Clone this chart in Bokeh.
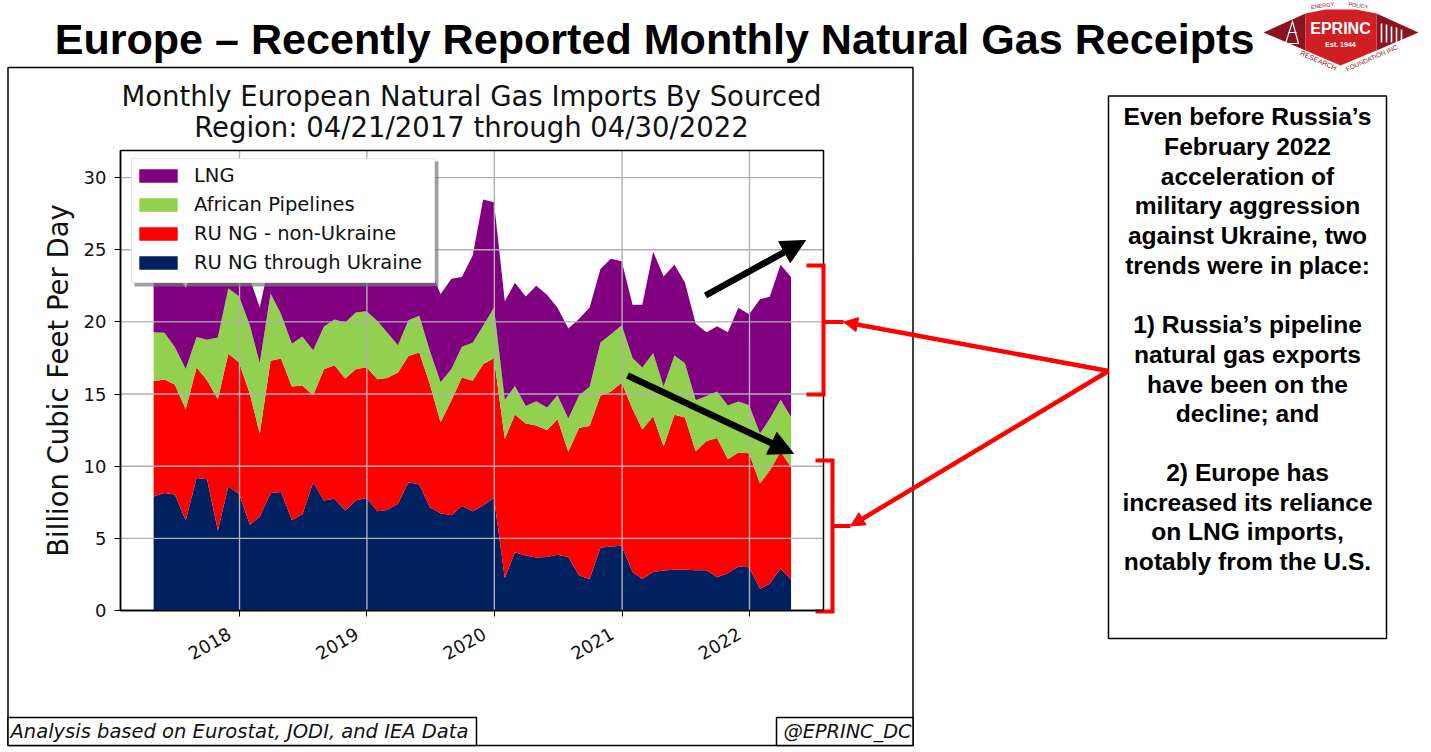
import pandas as pd
from bokeh.core.properties import value
from bokeh.embed import file_html
from bokeh.resources import INLINE
from bokeh.plotting import figure
from bokeh.models import (ColumnDataSource, Range1d, FixedTicker, LinearAxis, DatetimeAxis,
                          Arrow, NormalHead, Legend, LegendItem)

dates = pd.date_range("2017-04-30", periods=61, freq="ME")
ru_ukraine = [7.9, 8.15, 8.04, 6.24, 9.19, 9.1, 5.54, 8.59, 8.08, 5.94, 6.5, 8.15, 8.22, 6.28, 6.65, 8.87,
              7.62, 7.74, 6.93, 7.62, 7.8, 6.88, 6.97, 7.39, 8.89, 8.73, 7.16, 6.74, 6.6, 7.25, 6.88, 7.27,
              7.8, 2.24, 4.04, 3.81, 3.67, 3.7, 3.86, 3.7, 2.42, 2.19, 4.34, 4.43, 4.48, 2.66, 2.19, 2.66,
              2.77, 2.82, 2.82, 2.79, 2.79, 2.31, 2.59, 3.05, 3.0, 1.5, 1.85, 2.91, 2.15]
ru_other = [8.0, 7.85, 7.6, 7.7, 7.65, 6.85, 9.1, 9.2, 9.1, 9.05, 5.75, 9.15, 9.25, 9.25, 8.95, 6.05,
            9.1, 9.25, 9.15, 9.1, 9.05, 9.15, 9.15, 9.1, 8.75, 9.15, 8.55, 6.3, 7.95, 8.9, 9.05, 9.8,
            9.7, 9.65, 9.55, 9.15, 9.15, 8.8, 9.4, 7.3, 10.25, 10.6, 10.55, 10.75, 11.3, 11.3, 10.35, 10.8,
            8.6, 10.75, 10.55, 8.25, 8.95, 9.65, 7.9, 7.9, 7.9, 7.3, 7.85, 8.1, 7.8]
african = [3.39, 3.24, 2.61, 2.79, 2.12, 2.82, 4.28, 4.55, 4.58, 4.74, 4.9, 4.67, 3.07, 2.96, 3.39, 3.12,
           2.96, 3.17, 3.88, 3.93, 3.88, 4.04, 3.14, 1.9, 2.47, 2.55, 2.31, 2.77, 2.19, 2.12, 2.62, 2.66,
           3.49, 2.71, 1.96, 1.22, 1.68, 1.57, 1.66, 2.31, 2.24, 2.72, 3.69, 3.97, 3.98, 3.54, 4.3, 4.39,
           4.16, 4.11, 3.77, 3.53, 3.12, 3.21, 3.72, 3.53, 3.33, 3.47, 3.58, 3.6, 3.46]
lng = [4.2, 4.75, 5.25, 5.65, 5.0, 5.25, 5.05, 2.65, 2.7, 3.25, 3.85, 2.5, 3.45, 5.0, 5.0, 5.45,
       3.8, 3.85, 4.0, 3.85, 3.75, 3.9, 4.75, 5.1, 3.9, 4.1, 5.8, 6.1, 6.25, 4.85, 6.05, 8.75,
       7.3, 6.83, 7.16, 7.58, 8.0, 7.81, 6.06, 6.23, 5.3, 5.48, 5.08, 5.23, 4.45, 3.69, 4.34, 7.02,
       7.62, 6.28, 5.59, 5.31, 4.43, 4.53, 5.08, 6.5, 6.3, 9.3, 8.47, 9.35, 9.7]
series_names = ["RU NG through Ukraine", "RU NG - non-Ukraine", "African Pipelines", "LNG"]
series_colors = ["#002060", "#ff0000", "#92d050", "#800080"]
y_ticks = [0, 5, 10, 15, 20, 25, 30]
x_tick_years = [2018, 2019, 2020, 2021, 2022]

side_text = [
    (116, "Even before Russia’s"), (146, "February 2022"), (176, "acceleration of"),
    (205, "military aggression"), (235, "against Ukraine, two"), (265, "trends were in place:"),
    (324, "1) Russia’s pipeline"), (354, "natural gas exports"), (384, "have been on the"), (413, "decline; and"),
    (472, "2) Europe has"), (502, "increased its reliance"), (531, "on LNG imports,"), (561, "notably from the U.S."),
]

W, H = 1431, 752
ms = lambda s: pd.Timestamp(s).value / 1e6
# The frame covers the whole picture, so that the plot's scales are set by where 2018, 2022 and 0, 30 fall.
PX_X = (ms("2022-01-01") - ms("2018-01-01")) / (749 - 239)
PX_Y = 14.43
x_at = lambda px: ms("2018-01-01") + (px - 239) * PX_X
y_at = lambda py: (610 - py) / PX_Y
XMIN, XMAX, YMAX = x_at(120), x_at(823), y_at(150)

p = figure(width=W, height=H, output_backend="svg", toolbar_location=None, x_axis_location=None, y_axis_location=None,
           x_range=Range1d(x_at(0), x_at(W)), y_range=Range1d(y_at(H), y_at(0)),
           min_border=0, min_border_left=0, min_border_right=0, min_border_top=0, min_border_bottom=0,
           outline_line_color=None)
p.xgrid.visible = False
p.ygrid.visible = False
p.extra_x_ranges["px"] = Range1d(0, W)
p.extra_y_ranges["px"] = Range1d(H, 0)
PX = dict(x_range_name="px", y_range_name="px")


def label(x, y, text, size, font="Liberation Sans", style="normal", align="center", color="black", angle=0):
    p.text([x], [y], text=[text], text_font=value(font), text_font_size=value(f"{size}px"),
           text_font_style=style, text_align=align, text_baseline="middle", text_color=color, angle=angle, **PX)


def box(l, t, r, b, fill=None, line="black", width=1.5, alpha=1.0):
    p.quad(left=[l], right=[r], top=[t], bottom=[b], fill_color=fill, fill_alpha=alpha if fill else 0,
           line_color=line, line_width=width, **PX)


def poly(pts, fill):
    p.patch([a for a, _ in pts], [b for _, b in pts], fill_color=fill, line_color=None, **PX)


def path(pts, color, width):
    p.line([a for a, _ in pts], [b for _, b in pts], line_color=color, line_width=width, line_join="miter", **PX)


def arrow(x0, y0, x1, y1, color, width, size):
    p.add_layout(Arrow(x_start=x0, y_start=y0, x_end=x1, y_end=y1, line_color=color, line_width=width,
                       end=NormalHead(size=size, fill_color=color, line_color=color), **PX))


# outer image frame and footer boxes
box(7.5, 67, 912.5, 745)
box(7.5, 717, 476, 745, fill="white")
box(776, 717, 912.5, 745, fill="white")
label(10, 731, "Analysis based on Eurostat, JODI, and IEA Data", 19.5, "DejaVu Sans", "italic", "left", "#111111")
label(783, 731, "@EPRINC_DC", 19.3, "DejaVu Sans", "italic", "left", "#111111")

# titles
label(654, 38, "Europe – Recently Reported Monthly Natural Gas Receipts", 43.1, style="bold")
label(471, 95, "Monthly European Natural Gas Imports By Sourced", 27.5, "DejaVu Sans", color="#111111")
label(471, 126, "Region: 04/21/2017 through 04/30/2022", 27.5, "DejaVu Sans", color="#111111")

# stacked areas, then the grid over them and the frame
src = ColumnDataSource(dict(date=dates, a=ru_ukraine, b=ru_other, c=african, d=lng))
rs = p.varea_stack(stackers=["a", "b", "c", "d"], x="date", color=series_colors, source=src)
grid_x = [ms(f"{y}-01-01") for y in x_tick_years]
p.segment(x0=grid_x, x1=grid_x, y0=[0] * len(grid_x), y1=[YMAX] * len(grid_x), line_color="#b0b0b0", line_width=1.4)
p.segment(x0=[XMIN] * len(y_ticks), x1=[XMAX] * len(y_ticks), y0=y_ticks, y1=y_ticks, line_color="#b0b0b0", line_width=1.4)
box(120, 150, 823, 610)

xaxis = DatetimeAxis(fixed_location=0, bounds=(XMIN, XMAX), ticker=FixedTicker(ticks=grid_x),
                     major_label_overrides={t: f"{y}\u00a0\u00a0" for t, y in zip(grid_x, x_tick_years)},
                     major_label_orientation=0.52, major_label_standoff=10,
                     major_label_text_font_size="18px")
yaxis = LinearAxis(fixed_location=XMIN, bounds=(0, YMAX), ticker=FixedTicker(ticks=y_ticks),
                   axis_label="Billion Cubic Feet Per Day", axis_label_text_font="DejaVu Sans",
                   axis_label_text_font_size="27.5px", axis_label_text_font_style="normal",
                   axis_label_text_color="#111111", axis_label_standoff=7,
                   major_label_standoff=8, major_label_text_font_size="18px")
for ax, side in ((xaxis, "below"), (yaxis, "left")):
    ax.major_label_text_font = "DejaVu Sans"
    ax.major_label_text_color = "#111111"
    ax.major_tick_in = 0
    ax.major_tick_out = 6
    ax.minor_tick_in = 0
    ax.minor_tick_out = 0
    ax.major_tick_line_color = "black"
    ax.axis_line_color = "black"
    ax.axis_line_width = 1.5
    p.add_layout(ax, side)

# legend with shadow
box(134, 161, 438, 286, fill="#777777", line=None, alpha=0.7)
legend = Legend(items=[LegendItem(label=series_names[i], renderers=[rs[i]]) for i in (3, 2, 1, 0)],
                location=(131, H - 283), orientation="vertical", label_text_font="DejaVu Sans",
                label_text_font_size="19.5px", label_text_color="#111111", glyph_width=48, glyph_height=17,
                label_standoff=12, label_width=234, spacing=6, margin=0,
                padding=dict(left=2, right=6, top=5, bottom=8), border_line_color="#cccccc",
                border_line_width=1, background_fill_color="white", background_fill_alpha=1.0)
p.add_layout(legend, "center")

# side text box
box(1108, 95.5, 1386, 638, fill="white")
for y, t in side_text:
    label(1247, y - 0.5, t, 24.6, style="bold")

# trend arrows
arrow(705, 295, 805, 240, "black", 6.5, 24)
arrow(627, 375, 793, 453, "black", 6.5, 24)

# brackets and pointers
path([(806, 265), (823, 265), (823, 394), (806, 394)], "#ff0000", 4)
path([(815, 460), (832, 460), (832, 611), (815, 611)], "#ff0000", 4)
path([(823, 321.5), (843, 321.5)], "#ff0000", 4)
path([(832, 525.5), (850, 525.5)], "#ff0000", 4)
arrow(1108, 370.5, 843, 321.5, "#ff0000", 4.5, 14)
arrow(1108, 370.5, 850, 525.5, "#ff0000", 4.5, 14)

# EPRINC logo
poly([(1263, 32), (1305, 13), (1305, 50)], "#8a1420")
poly([(1418, 32), (1376, 13), (1376, 50)], "#8a1420")
poly([(1305, 13), (1325, 9), (1355, 9), (1376, 13), (1376, 50), (1340, 65), (1305, 50)], "#cf1f25")
label(1340, 28, "EPRINC", 16, style="bold", color="white")
label(1340, 44, "Est. 1944", 7, style="bold", color="white")
label(1322, 5, "ENERGY", 5.5, color="#8a1420", angle=0.15)
label(1358, 5, "POLICY", 5.5, color="#8a1420", angle=-0.15)
label(1318, 60, "RESEARCH", 7, color="#8a1420", angle=-0.42)
label(1372, 57, "FOUNDATION INC.", 6.5, color="#8a1420", angle=0.42)
path([(1285, 43), (1292, 21), (1298, 43), (1285, 43)], "white", 1.2)
path([(1288, 32), (1296, 32)], "white", 1.2)
for x, top in ((1381, 23), (1386, 24), (1391, 26), (1396, 27), (1401, 29)):
    path([(x, top), (x, 42)], "white", 1.6)

open("out.html", "w").write(file_html(p, INLINE))
